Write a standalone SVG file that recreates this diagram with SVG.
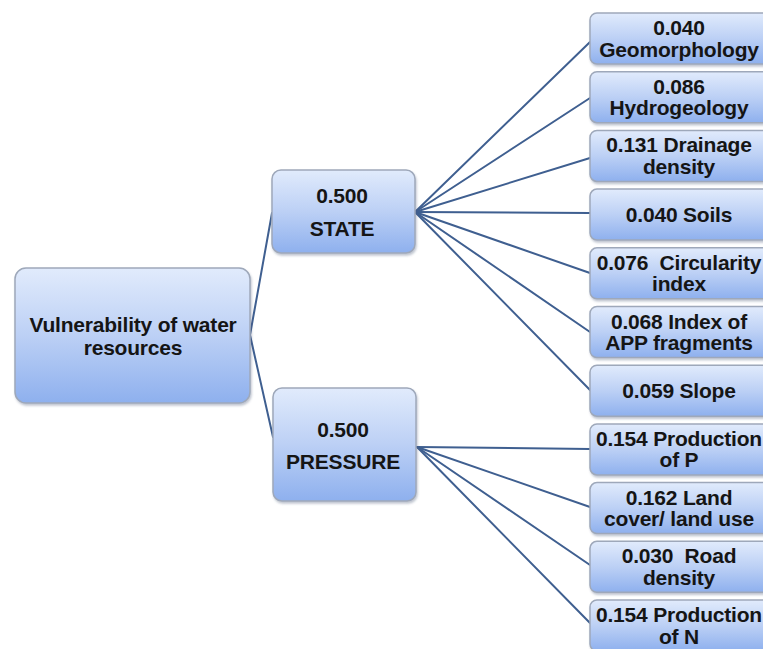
<svg xmlns="http://www.w3.org/2000/svg" width="763" height="649" viewBox="0 0 763 649">
  <defs>
    <linearGradient id="boxGrad" x1="0" y1="0" x2="0" y2="1">
      <stop offset="0" stop-color="#e1ebfc"/>
      <stop offset="0.5" stop-color="#bcd0f5"/>
      <stop offset="1" stop-color="#8eb0ee"/>
    </linearGradient>
    <filter id="shadow" x="-5%" y="-5%" width="115%" height="120%">
      <feDropShadow dx="1" dy="2" stdDeviation="1.2" flood-color="#4a5a78" flood-opacity="0.35"/>
    </filter>
  </defs>
  <style>
    .box { fill: url(#boxGrad); stroke: #9ea8ba; stroke-width: 1.5; filter: url(#shadow); }
    .lbl { font-family: "Liberation Sans", Arial, sans-serif; font-weight: bold; font-size: 21px; fill: #151515; text-anchor: middle; letter-spacing: -0.2px; white-space: pre; }
    .conn { stroke: #3f5f90; stroke-width: 2; fill: none; stroke-linecap: round; }
  </style>
  <rect width="763" height="649" fill="#ffffff"/>

  <g id="connectors">
    <line class="conn" x1="250" y1="335" x2="272" y2="213"/>
    <line class="conn" x1="250" y1="335" x2="273" y2="437"/>
    <line class="conn" x1="415" y1="212" x2="590" y2="42"/>
    <line class="conn" x1="415" y1="212" x2="590" y2="98"/>
    <line class="conn" x1="415" y1="212" x2="590" y2="158"/>
    <line class="conn" x1="415" y1="212" x2="590" y2="213"/>
    <line class="conn" x1="415" y1="212" x2="590" y2="273"/>
    <line class="conn" x1="415" y1="212" x2="590" y2="332"/>
    <line class="conn" x1="415" y1="212" x2="590" y2="390"/>
    <line class="conn" x1="417" y1="447" x2="590" y2="449"/>
    <line class="conn" x1="417" y1="447" x2="590" y2="507"/>
    <line class="conn" x1="417" y1="447" x2="590" y2="565"/>
    <line class="conn" x1="417" y1="447" x2="590" y2="623"/>
  </g>

  <g id="root">
    <rect class="box" x="15" y="268" width="235" height="135" rx="11"/>
    <text class="lbl" x="133" y="332">Vulnerability of water</text>
    <text class="lbl" x="133" y="355">resources</text>
  </g>

  <g id="state">
    <rect class="box" x="272" y="170" width="143" height="83" rx="9"/>
    <text class="lbl" x="342" y="203">0.500</text>
    <text class="lbl" x="342" y="236">STATE</text>
  </g>

  <g id="pressure">
    <rect class="box" x="273" y="388" width="143" height="113" rx="9"/>
    <text class="lbl" x="343" y="437">0.500</text>
    <text class="lbl" x="343" y="469">PRESSURE</text>
  </g>

  <g id="geomorphology">
    <rect class="box" x="590" y="13" width="180" height="51" rx="7"/>
    <text class="lbl" x="679" y="35">0.040</text>
    <text class="lbl" x="679" y="56.5">Geomorphology</text>
  </g>

  <g id="hydrogeology">
    <rect class="box" x="590" y="71.7" width="180" height="51" rx="7"/>
    <text class="lbl" x="679" y="93.7">0.086</text>
    <text class="lbl" x="679" y="115.2">Hydrogeology</text>
  </g>

  <g id="drainage-density">
    <rect class="box" x="590" y="130.4" width="180" height="51" rx="7"/>
    <text class="lbl" x="679" y="152.4">0.131 Drainage</text>
    <text class="lbl" x="679" y="173.9">density</text>
  </g>

  <g id="soils">
    <rect class="box" x="590" y="189.1" width="180" height="51" rx="7"/>
    <text class="lbl" x="679" y="221.5">0.040 Soils</text>
  </g>

  <g id="circularity-index">
    <rect class="box" x="590" y="247.8" width="180" height="51" rx="7"/>
    <text class="lbl" x="679" y="269.8">0.076  Circularity</text>
    <text class="lbl" x="679" y="291.3">index</text>
  </g>

  <g id="app-fragments">
    <rect class="box" x="590" y="306.5" width="180" height="51" rx="7"/>
    <text class="lbl" x="679" y="328.5">0.068 Index of</text>
    <text class="lbl" x="679" y="350">APP fragments</text>
  </g>

  <g id="slope">
    <rect class="box" x="590" y="365.2" width="180" height="51" rx="7"/>
    <text class="lbl" x="679" y="397.6">0.059 Slope</text>
  </g>

  <g id="production-p">
    <rect class="box" x="590" y="423.9" width="180" height="51" rx="7"/>
    <text class="lbl" x="679" y="445.9">0.154 Production</text>
    <text class="lbl" x="679" y="467.4">of P</text>
  </g>

  <g id="land-cover">
    <rect class="box" x="590" y="482.6" width="180" height="51" rx="7"/>
    <text class="lbl" x="679" y="504.6">0.162 Land</text>
    <text class="lbl" x="679" y="526.1">cover/ land use</text>
  </g>

  <g id="road-density">
    <rect class="box" x="590" y="541.3" width="180" height="51" rx="7"/>
    <text class="lbl" x="679" y="563.3">0.030  Road</text>
    <text class="lbl" x="679" y="584.8">density</text>
  </g>

  <g id="production-n">
    <rect class="box" x="590" y="600" width="180" height="51" rx="7"/>
    <text class="lbl" x="679" y="622">0.154 Production</text>
    <text class="lbl" x="679" y="643.5">of N</text>
  </g>
</svg>
